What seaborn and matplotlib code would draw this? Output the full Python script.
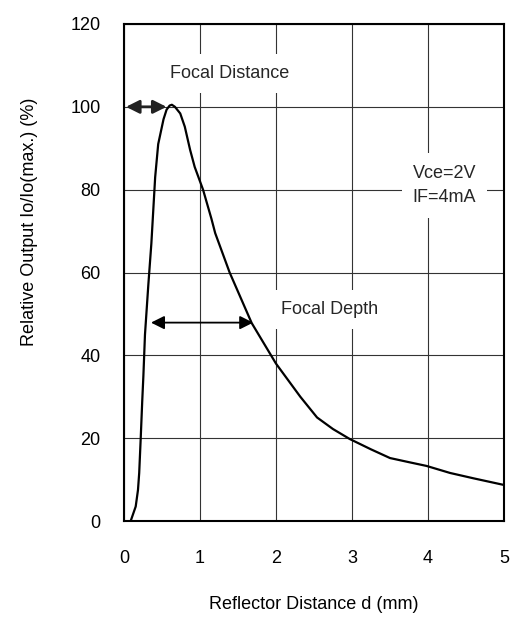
import matplotlib
matplotlib.use("Agg")
import matplotlib.pyplot as plt
import seaborn as sns
import pandas as pd

distance_mm = [0.088, 0.154, 0.184, 0.2, 0.22, 0.24, 0.255, 0.276, 0.32, 0.36, 0.385, 0.41,
               0.45, 0.52, 0.56, 0.6, 0.63, 0.67, 0.74, 0.8, 0.87, 0.93, 1.04, 1.15, 1.2,
               1.39, 1.68, 2.0, 2.32, 2.54, 2.75, 2.97, 3.25, 3.5, 3.75, 3.98, 4.29, 4.6, 5.0]
relative_output = [0, 3.5, 7.5, 11.6, 20, 29, 35, 45, 57, 67, 75, 83,
                   91, 97, 99.3, 100.3, 100.5, 100, 98.4, 95.2, 89.6, 85.5, 80, 73, 69.5,
                   60, 47.8, 38, 30, 25, 22.2, 19.8, 17.3, 15.2, 14.2, 13.3, 11.6, 10.3, 8.7]
x_ticks = [0, 1, 2, 3, 4, 5]
y_ticks = [0, 20, 40, 60, 80, 100, 120]

df = pd.DataFrame({"d": distance_mm, "out": relative_output})

sns.set_theme(style="white")
plt.rcParams["font.family"] = ["Liberation Sans", "DejaVu Sans"]
fs = 13

fig = plt.figure(figsize=(5.12, 6.19), dpi=100)
ax = fig.add_axes([124/512, 1-521/619, 380/512, 497/619])

sns.lineplot(data=df, x="d", y="out", ax=ax, color="black", linewidth=1.6,
             estimator=None, sort=False, zorder=3)

ax.set_xlim(0, 5)
ax.set_ylim(0, 120)
ax.set_xticks(x_ticks)
ax.set_yticks(y_ticks)
ax.grid(True, color="#333333", linewidth=0.8)
ax.set_axisbelow(True)
for s in ax.spines.values():
    s.set_color("black")
    s.set_linewidth(1.5)
ax.tick_params(axis="both", length=0, labelsize=fs, colors="black")
ax.tick_params(axis="y", pad=17)
ax.tick_params(axis="x", pad=21)

ax.set_xlabel("Reflector Distance d (mm)", fontsize=fs, color="black")
ax.set_ylabel("Relative Output Io/Io(max.) (%)", fontsize=fs, color="black")
ax.xaxis.set_label_coords(0.5, -0.151)
ax.yaxis.set_label_coords(-0.226, 0.601)

box = dict(facecolor="white", edgecolor="none", pad=8)
ax.text(1.395, 108, "Focal Distance", fontsize=fs, ha="center", va="center",
        bbox=box, zorder=4)
ax.text(2.7, 51, "Focal Depth", fontsize=fs, ha="center", va="center",
        bbox=box, zorder=4)
ax.text(3.8, 81, "Vce=2V\nIF=4mA", fontsize=fs, ha="left", va="center",
        linespacing=1.6, bbox=box, zorder=4)

arrow1 = dict(arrowstyle="<|-|>", color="#222222", lw=2.0, mutation_scale=20,
              shrinkA=0, shrinkB=0)
arrow2 = dict(arrowstyle="<|-|>", color="black", lw=1.3, mutation_scale=20,
              shrinkA=0, shrinkB=0)
ax.annotate("", xy=(0.026, 100), xytext=(0.56, 100), arrowprops=arrow1, zorder=5)
ax.annotate("", xy=(0.355, 47.9), xytext=(1.70, 47.9), arrowprops=arrow2, zorder=5)

fig.savefig("out.png", dpi=100)
